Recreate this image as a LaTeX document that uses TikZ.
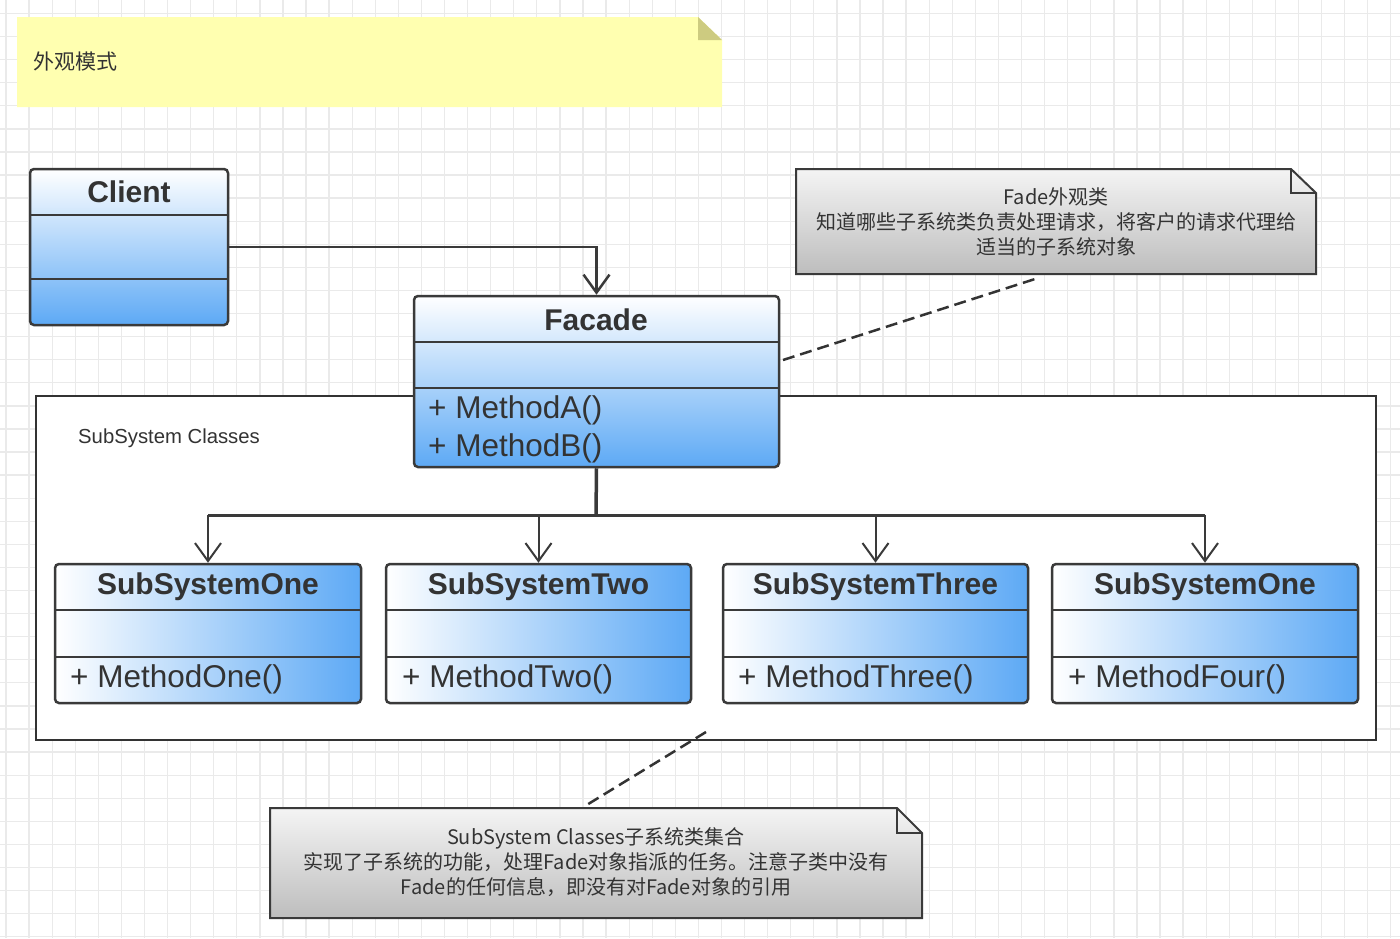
\documentclass[tikz,border=0pt]{standalone}
\usepackage{fontspec}
\setmainfont{Liberation Sans}
\newfontfamily\cjk{Noto Sans CJK SC}
\usetikzlibrary{arrows.meta}
\definecolor{ink}{HTML}{333333}
\definecolor{boxline}{HTML}{3A3A3A}
\definecolor{umlblue}{HTML}{5DA9F5}
\definecolor{gridc}{HTML}{EAEAEA}
\definecolor{noteyellow}{HTML}{FFFFB0}
\definecolor{foldolive}{HTML}{CDCB80}
\definecolor{notetop}{HTML}{F4F4F4}
\definecolor{notebot}{HTML}{BDBDBD}
\begin{document}
\begin{tikzpicture}[x=1pt,y=-1pt,
  umlbox/.style={draw=boxline, line width=2.5pt, rounded corners=4pt, inner sep=0pt},
  vbox/.style={umlbox, top color=white, bottom color=umlblue},
  hbox/.style={umlbox, left color=white, right color=umlblue},
  ttl/.style={font=\bfseries\fontsize{30}{36}\selectfont, text=ink, inner sep=0pt},
  meth/.style={font=\fontsize{31.5}{36}\selectfont, text=ink, anchor=west, inner sep=0pt},
  divider/.style={draw=boxline, line width=2.5pt},
  conn/.style={draw=boxline, line width=2.5pt},
  dep/.style={conn, line width=2pt, -{Straight Barb[length=18pt,width=26pt]}},
  noteln/.style={draw=ink, line width=2.5pt, dash pattern=on 12pt off 6pt},
  grayn/.style={top color=notetop, bottom color=notebot, draw=boxline, line width=2pt},
  ntext/.style={font=\cjk\fontsize{20}{25}\selectfont, text=ink, align=center, inner sep=0pt}
]
\useasboundingbox (0,0) rectangle (1400,938);
\fill[white] (0,0) rectangle (1400,938);
% grid
\foreach \i in {0,...,60} {
  \pgfmathsetmacro\gx{6+23.08*\i}
  \draw[gridc, line width=1.3pt] (\gx,0) -- (\gx,938);
}
\foreach \i in {0,...,40} {
  \pgfmathsetmacro\gy{13.5+23.08*\i}
  \draw[gridc, line width=1.3pt] (0,\gy) -- (1400,\gy);
}

% yellow title note
\fill[noteyellow] (17,17) -- (698,17) -- (722,40) -- (722,107) -- (17,107) -- cycle;
\fill[foldolive] (698,17) -- (698,40) -- (722,40) -- cycle;
\node[anchor=west, font=\cjk\fontsize{21}{25}\selectfont, text=ink, inner sep=0pt] (title) at (33,62) {外观模式};

% subsystem container
\node[draw=ink, line width=2.5pt, fill=white, minimum width=1340pt, minimum height=344pt, inner sep=0pt] (subsys) at (706,568) {};
\node[anchor=west, font=\fontsize{20.3}{24}\selectfont, text=ink, inner sep=0pt] (subsysL) at (78,438) {SubSystem Classes};

% Client
\node[vbox, minimum width=198pt, minimum height=156pt] (client) at (129,247) {};
\draw[divider] (30,215) -- (228,215);
\draw[divider] (30,279) -- (228,279);
\node[ttl] (clientT) at (129,192) {Client};

% Facade
\node[vbox, minimum width=365pt, minimum height=171pt] (facade) at (596.5,381.5) {};
\draw[divider] (414,342) -- (779,342);
\draw[divider] (414,388) -- (779,388);
\node[ttl] (facadeT) at (596,320) {Facade};
\node[meth] (ma) at (428,410) {+ MethodA()};
\node[meth] (mb) at (428,448.5) {+ MethodB()};

% Client -> Facade
\draw[dep, line width=2.5pt] (client.east) -| (facade.north);

% subsystems
\node[hbox, minimum width=306pt, minimum height=139pt] (s1) at (208,633.5) {};
\node[hbox, minimum width=305pt, minimum height=139pt] (s2) at (538.5,633.5) {};
\node[hbox, minimum width=305pt, minimum height=139pt] (s3) at (875.5,633.5) {};
\node[hbox, minimum width=306pt, minimum height=139pt] (s4) at (1205,633.5) {};
\foreach \a/\b in {55/361, 386/691, 723/1028, 1052/1358} {
  \draw[divider] (\a,610) -- (\b,610);
  \draw[divider] (\a,657) -- (\b,657);
}
\node[ttl] (s1T) at (208,587) {SubSystemOne};
\node[ttl] (s2T) at (538.5,587) {SubSystemTwo};
\node[ttl] (s3T) at (875.5,587) {SubSystemThree};
\node[ttl] (s4T) at (1205,587) {SubSystemOne};
\node[meth] (s1m) at (70,679.5) {+ MethodOne()};
\node[meth] (s2m) at (402,679.5) {+ MethodTwo()};
\node[meth] (s3m) at (738,679.5) {+ MethodThree()};
\node[meth] (s4m) at (1068,679.5) {+ MethodFour()};

% bus
\coordinate (bus) at (596,515);
\draw[conn, line width=3.5pt] (facade.south) -- (bus);
\draw[conn, line width=3pt] (s1.north |- bus) -- (s4.north |- bus);
\foreach \s in {s1,s2,s3,s4} {
  \draw[dep] (\s.north |- bus) -- (\s.north);
}

% right note
\shade[grayn] (796,169) -- (1291,169) -- (1316,193) -- (1316,274) -- (796,274) -- cycle;
\draw[boxline, line width=1.5pt] (1291,169) -- (1291,193) -- (1316,193);
\node[ntext] (note1) at (1056,222) {Fade外观类\\知道哪些子系统类负责处理请求，将客户的请求代理给\\适当的子系统对象};
\coordinate (f1) at (783,360);
\coordinate (n1) at (1035,279);
\draw[noteln] (f1) -- (n1);

% bottom note
\shade[grayn] (270,808) -- (897,808) -- (922,833) -- (922,918) -- (270,918) -- cycle;
\draw[boxline, line width=1.5pt] (897,808) -- (897,833) -- (922,833);
\node[ntext] (note2) at (596,862.5) {SubSystem Classes子系统类集合\\实现了子系统的功能，处理Fade对象指派的任务。注意子类中没有\\Fade的任何信息，即没有对Fade对象的引用};
\coordinate (c1) at (706,732);
\coordinate (n2) at (585,806);
\draw[noteln] (c1) -- (n2);
\end{tikzpicture}
\end{document}
